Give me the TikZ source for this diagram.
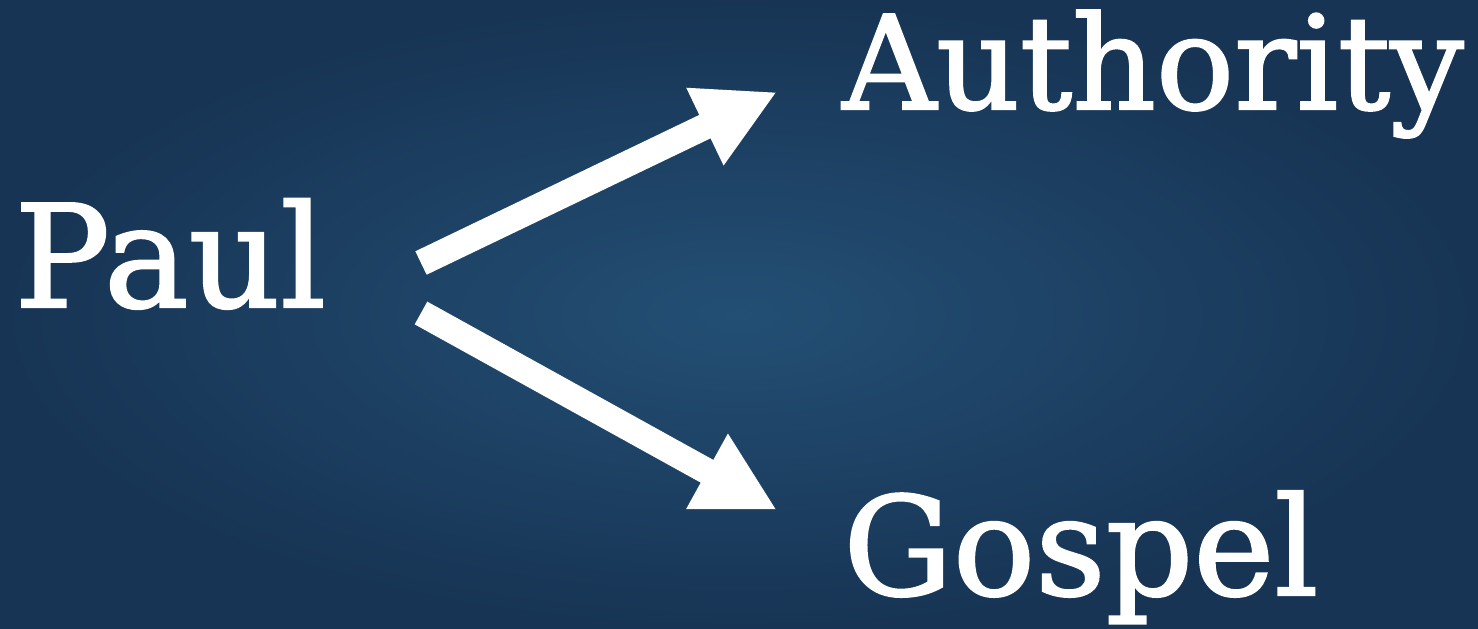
\documentclass[tikz,border=0pt]{standalone}
\usepackage{fontspec}
\setmainfont{DejaVu Serif}
\usetikzlibrary{arrows.meta,positioning}

\definecolor{wallcentre}{RGB}{35,79,116}
\definecolor{walledge}{RGB}{23,52,84}

\begin{document}
\begin{tikzpicture}[x=0.02cm,y=-0.02cm,
    word/.style={text=white,inner sep=0pt,anchor=base west},
    big arrow/.style={draw=white,line width=0.52cm,-{Triangle[length=1.6cm,width=1.6cm]}}]
    % wallpaper
    \shade[inner color=wallcentre,outer color=walledge] (0,0) rectangle (1478,629);
    \useasboundingbox (0,0) rectangle (1478,629);

    \node [word, font=\fontsize{81}{90}\selectfont\addfontfeatures{FakeBold=1.6}](paul) at (14,307){Paul};
    \node [word, font=\fontsize{74}{84}\selectfont\addfontfeatures{FakeBold=1.6}](authority) at (842,109){Authority};
    \node [word, font=\fontsize{78}{88}\selectfont\addfontfeatures{FakeBold=1.6}](gospel) at (843,595){Gospel};

    \coordinate (up tail) at (421,263);
    \coordinate (up tip) at (777,92);
    \coordinate (down tail) at (421,313);
    \coordinate (down tip) at (777,510);

    \draw[big arrow] (up tail) -- (up tip);
    \draw[big arrow] (down tail) -- (down tip);
\end{tikzpicture}
\end{document}
